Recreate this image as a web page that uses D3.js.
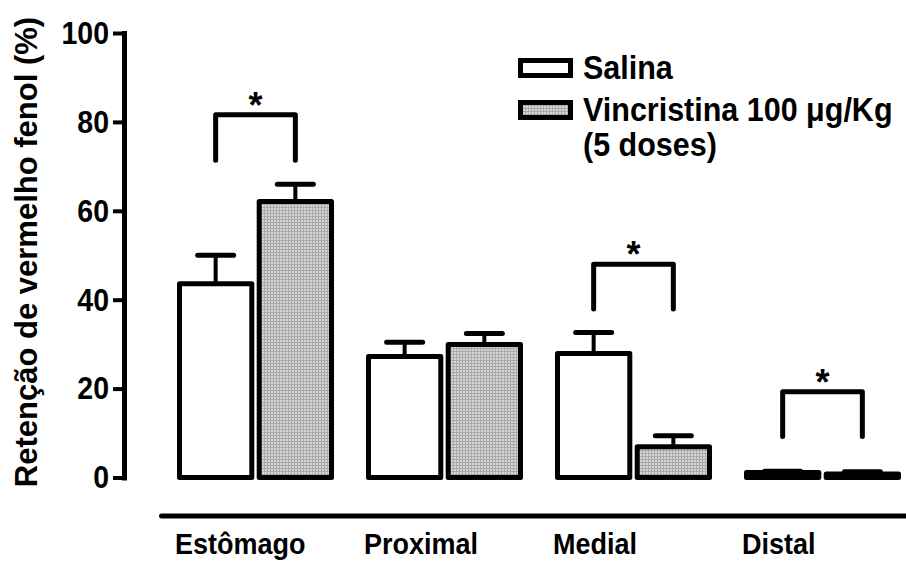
<!DOCTYPE html>
<html><head><meta charset="utf-8">
<script src="https://cdn.jsdelivr.net/npm/d3@7"></script>
<style>body{margin:0;background:#fff}svg{display:block}text{font-family:"Liberation Sans",Arial,sans-serif;font-weight:bold;fill:#000}</style>
</head><body><svg id="c" width="906" height="561"></svg>
<script>
const categories = ['Estômago','Proximal','Medial','Distal'];
const seriesNames = ['Salina','Vincristina 100 μg/Kg'];
const salina = [43.6, 27.2, 27.9, 1.1];
const salinaSEM = [6.4, 3.2, 4.7, 0.3];
const vinc = [62.1, 29.9, 6.9, 0.8];
const vincSEM = [3.9, 2.5, 2.5, 0.5];
const yTicks = [0, 20, 40, 60, 80, 100];
const sigCats = ['Estômago','Medial','Distal'];
const sigTop = [81.6, 48.0, 19.3];
const sigLeg = [71.4, 37.9, 9.2];
const yTitle = 'Retenção de vermelho fenol (%)';

const svg = d3.select('#c');
const defs = svg.append('defs');
const pat = defs.append('pattern').attr('id','mesh').attr('patternUnits','userSpaceOnUse')
  .attr('width',3).attr('height',3);
pat.append('rect').attr('width',3).attr('height',3).attr('fill','#d6d6d6');
pat.append('rect').attr('width',3).attr('height',1).attr('fill','#a9a9a9');
pat.append('rect').attr('width',1).attr('height',3).attr('fill','#a9a9a9');

const y = d3.scaleLinear().domain([0,100]).range([477.5, 33]);
const x0 = d3.scaleBand().domain(categories).range([161, 917]).padding(0);
const x1 = d3.scaleBand().domain(seriesNames).range([16, 173]).paddingInner(0.03);
const fills = ['#ffffff','url(#mesh)'];
const sw = 5;
const stretch = 1.1;

const data = [];
categories.forEach((c,i)=>{
  data.push({c, s: seriesNames[0], v: salina[i], e: salinaSEM[i], f: fills[0]});
  data.push({c, s: seriesNames[1], v: vinc[i], e: vincSEM[i], f: fills[1]});
});

// error bars
const eg = svg.append('g').attr('stroke','#000').attr('stroke-linecap','round');
data.forEach(d=>{
  const cx = x0(d.c) + x1(d.s) + x1.bandwidth()/2;
  eg.append('line').attr('x1',cx).attr('x2',cx).attr('y1',y(d.v)).attr('y2',y(d.v+d.e)).attr('stroke-width',4);
  eg.append('line').attr('x1',cx-18).attr('x2',cx+18).attr('y1',y(d.v+d.e)).attr('y2',y(d.v+d.e)).attr('stroke-width',5);
});

// bars
svg.append('g').selectAll('rect').data(data).join('rect')
  .attr('x', d=>x0(d.c)+x1(d.s)+sw/2)
  .attr('width', x1.bandwidth()-sw)
  .attr('y', d=>y(d.v))
  .attr('height', d=>Math.max(0.5, y(0)-y(d.v)))
  .attr('fill', d=>d.f).attr('stroke','#000').attr('stroke-width',sw)
  .attr('stroke-linejoin','round');

// significance brackets
const bg = svg.append('g');
sigCats.forEach((c,i)=>{
  const xa = x0(c)+x1(seriesNames[0])+x1.bandwidth()/2;
  const xb = x0(c)+x1(seriesNames[1])+x1.bandwidth()/2;
  bg.append('path').attr('d',`M${xa},${y(sigLeg[i])}V${y(sigTop[i])}H${xb}V${y(sigLeg[i])}`)
    .attr('fill','none').attr('stroke','#000').attr('stroke-width',5)
    .attr('stroke-linecap','round').attr('stroke-linejoin','round');
  bg.append('text').attr('x',(xa+xb)/2).attr('y',y(sigTop[i])+3).attr('text-anchor','middle')
    .attr('font-size',36).text('*');
});

// y axis
const ya = svg.append('g').attr('transform','translate(124,0)')
  .call(d3.axisLeft(y).tickValues(yTicks).tickSize(11).tickSizeOuter(0).tickPadding(4));
ya.select('.domain').attr('stroke','#000').attr('stroke-width',5).attr('stroke-linecap','square');
ya.selectAll('.tick line').attr('stroke','#000').attr('stroke-width',4);
ya.selectAll('.tick text').attr('font-size',28.5).attr('font-family','"Liberation Sans",Arial,sans-serif')
  .attr('font-weight','bold').attr('fill','#000').attr('dy','0.33em')
  .attr('transform',`scale(1,${stretch})`);

// x axis (line + left-aligned labels)
const xa = svg.append('g').attr('transform','translate(0,515.5)')
  .call(d3.axisBottom(x0).tickSize(0).tickSizeOuter(0));
xa.select('.domain').attr('stroke','#000').attr('stroke-width',5).attr('stroke-linecap','round');
xa.selectAll('.tick text').attr('font-size',27).attr('font-family','"Liberation Sans",Arial,sans-serif')
  .attr('font-weight','bold').attr('fill','#000').attr('text-anchor','start')
  .attr('x', 0).attr('y', 0).attr('dy', 0)
  .attr('transform', `translate(${-x0.bandwidth()/2 + 14},38) scale(1,${stretch})`);

// y title
svg.append('text').attr('transform','translate(37,252) rotate(-90)').attr('text-anchor','middle')
  .attr('font-size',31).text(yTitle);

// legend
const lg = svg.append('g');
const legBase = [79, 121];
seriesNames.forEach((s,i)=>{
  lg.append('rect').attr('x',520.5).attr('y',legBase[i]-18.5).attr('width',50).attr('height',15)
    .attr('fill',fills[i]).attr('stroke','#000').attr('stroke-width',5);
  lg.append('text').attr('transform',`translate(583,${legBase[i]}) scale(1,${stretch})`)
    .attr('font-size',30.5).text(s);
});
lg.append('text').attr('transform',`translate(583,156) scale(1,${stretch})`)
  .attr('font-size',30.5).text('(5 doses)');
</script></body></html>
